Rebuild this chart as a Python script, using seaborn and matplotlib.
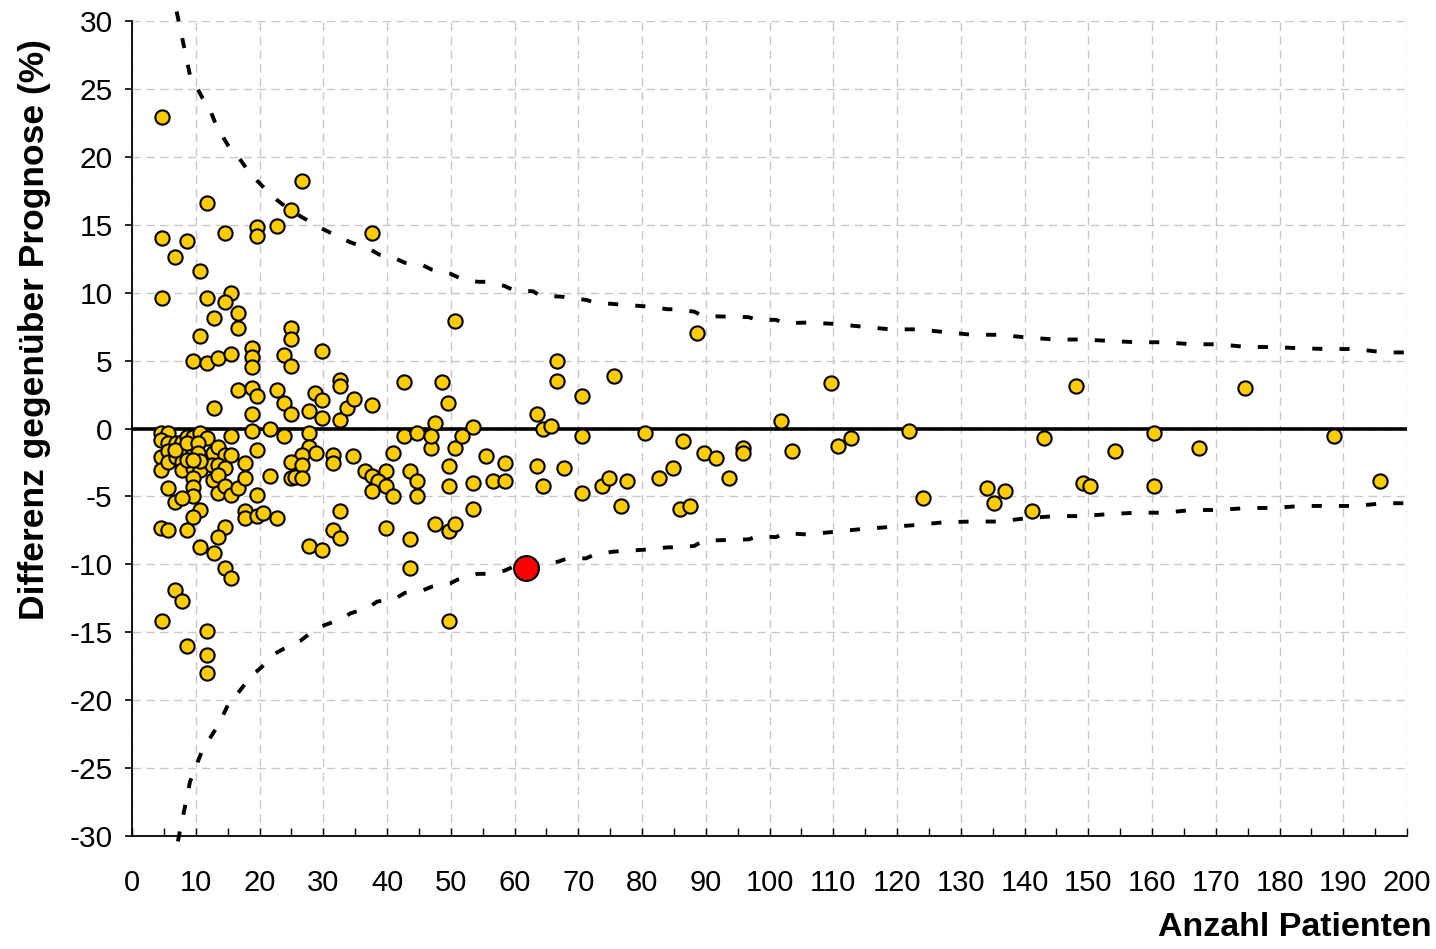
import matplotlib
matplotlib.use("Agg")
import matplotlib.pyplot as plt
import seaborn as sns
import pandas as pd

# ---------------- data ----------------
patients = [
    4.7, 26.6, 11.7, 24.9, 4.7, 8.6, 14.6, 19.6, 19.6, 22.7, 37.6, 6.75, 10.7, 4.7, 11.7, 15.6,
    14.6, 16.7, 12.9, 16.7, 10.7, 24.9, 24.9, 50.7, 88.7, 29.8, 9.6, 11.7, 13.5, 15.6, 18.9, 18.9,
    18.9, 23.8, 24.9, 66.7, 66.7, 75.6, 70.6, 109.7, 148.1, 174.6, 16.7, 18.9, 19.6, 22.7, 23.8,
    12.9, 18.9, 24.9, 27.7, 28.7, 29.8, 29.8, 32.6, 32.6, 32.6, 33.7, 34.8, 37.6, 42.6, 48.6,
    49.6, 47.5, 53.5, 63.5, 64.5, 65.7, 101.8,
    # cluster near zero / negative, small n
    4.6, 5.7, 4.6, 5.7, 4.6, 4.6, 5.7, 5.7, 6.85, 6.85, 7.9, 7.9, 7.9, 7.9, 8.6, 8.6, 9.6, 9.6,
    9.6, 10.7, 11.7, 10.7, 9.6, 9.6, 9.6, 5.7, 6.75, 7.9, 10.7, 9.6, 4.6, 5.7, 8.6, 14.6, 13.5,
    12.75, 13.5, 14.6, 15.6, 12.5, 13.5, 14.6, 12.75, 13.5, 13.5, 14.6, 15.6, 16.7, 17.7, 17.7,
    19.6, 18.8, 15.6, 19.6, 17.7, 17.7, 19.6, 20.6, 22.7, 10.7, 12.9, 14.6, 15.6, 6.75, 7.8,
    4.65, 11.7, 8.6, 11.7, 11.7, 21.6, 23.9, 27.7, 27.7, 26.6, 28.8, 24.9, 26.6, 21.6, 24.9,
    25.6, 26.6, 27.7, 29.8, 6.75, 8.6, 10.4, 10.4, 8.6, 10.7, 9.6,
    # middle region
    31.6, 31.6, 34.7, 40.9, 55.6, 58.5, 36.5, 37.6, 39.8, 38.6, 39.8, 37.6, 40.9, 43.6, 44.7,
    44.7, 49.7, 49.7, 53.5, 56.7, 58.5, 63.5, 64.5, 32.6, 53.5, 31.6, 32.6, 39.8, 43.6, 47.5,
    49.7, 50.7, 43.6, 49.7, 46.9, 50.7, 42.6, 44.7, 46.9, 51.7,
    # right region
    70.6, 80.5, 86.5, 89.8, 91.6, 95.8, 95.8, 103.6, 67.8, 70.6, 73.8, 74.9, 77.7, 76.7, 82.7,
    84.8, 86.0, 87.6, 93.6, 121.9, 110.7, 112.8, 143.1, 154.2, 160.3, 167.4, 188.6, 124.0,
    134.1, 136.9, 135.2, 141.2, 149.1, 150.3, 160.3, 195.8,
]
difference = [
    22.9, 18.25, 16.6, 16.1, 14.05, 13.8, 14.4, 14.8, 14.2, 14.9, 14.4, 12.6, 11.6, 9.6, 9.6, 10.0,
    9.3, 8.5, 8.1, 7.4, 6.8, 7.4, 6.6, 7.9, 7.0, 5.7, 5.0, 4.8, 5.2, 5.5, 5.9, 5.3,
    4.5, 5.4, 4.6, 4.97, 3.5, 3.9, 2.4, 3.33, 3.15, 2.96, 2.8, 3.0, 2.4, 2.8, 1.9,
    1.5, 1.1, 1.1, 1.3, 2.6, 2.1, 0.8, 3.55, 3.1, 0.6, 1.5, 2.2, 1.7, 3.4, 3.4,
    1.85, 0.4, 0.1, 1.1, 0.0, 0.2, 0.58,
    -0.36, -0.3, -0.85, -1.1, -2.07, -3.05, -1.63, -2.44, -1.1, -2.07, -0.97, -1.83, -2.44, -3.05, -0.6, -1.7, -0.6, -1.78,
    -2.93, -0.36, -0.72, -3.05, -3.67, -4.28, -4.97, -4.4, -5.4, -5.14, -6.0, -6.5, -7.3, -7.5, -7.5, -7.27, -8.0,
    -1.83, -1.34, -1.95, -1.95, -2.7, -2.7, -2.93, -3.8, -3.4, -4.77, -4.23, -4.9, -4.4, -3.67, -2.56,
    -1.6, -0.2, -0.55, -4.9, -6.1, -6.6, -6.45, -6.25, -6.6, -8.7, -9.2, -10.25, -11.0, -11.9, -12.7,
    -14.2, -14.9, -16.0, -16.7, -18.0, 0.0, -0.55, -0.36, -1.34, -1.95, -1.78, -2.5, -2.7, -3.47, -3.67,
    -3.55, -3.67, -8.65, -8.95, -1.6, -1.1, -1.1, -1.8, -2.3, -2.4, -2.3,
    -1.95, -2.56, -2.0, -1.83, -2.0, -2.56, -3.1, -3.5, -3.1, -3.84, -4.2, -4.6, -4.97, -3.1, -3.84,
    -4.97, -2.74, -4.2, -4.0, -3.84, -3.84, -2.74, -4.2, -6.05, -5.9, -7.5, -8.05, -7.35, -8.1, -7.0,
    -7.55, -7.0, -10.3, -14.2, -1.46, -1.46, -0.55, -0.35, -0.55, -0.55,
    -0.55, -0.36, -0.9, -1.83, -2.2, -1.4, -1.83, -1.63, -2.93, -4.77, -4.2, -3.67, -3.84, -5.7, -3.67,
    -2.9, -5.9, -5.7, -3.67, -0.16, -1.26, -0.72, -0.72, -1.63, -0.36, -1.46, -0.55, -5.14,
    -4.4, -4.6, -5.5, -6.05, -4.0, -4.2, -4.2, -3.84,
]

highlight_patients = [61.8]
highlight_difference = [-10.3]

ci_upper_n = [7.0, 9.1, 11.1, 12.1, 13.3, 14.1, 15.5, 16.8, 18.5, 19.6, 21.6, 22.8, 25.0, 26.7,
              29.1, 30.3, 32.9, 34.3, 37.3, 38.8, 41.4, 42.8, 45.7, 47.0, 49.9, 51.3, 54.2, 55.5,
              58.4, 59.8, 62.9, 64.0, 67.5, 71.3, 72.6, 75.4, 81.1, 84.0, 85.4, 88.2, 89.6, 93.9,
              96.7, 98.1, 101.0, 102.4, 105.9, 110.3, 114.5, 118.9, 123.1, 127.5, 131.8, 136.0,
              140.4, 144.8, 149.0, 153.3, 157.5, 161.9, 166.3, 170.5, 174.9, 179.1, 183.4, 187.8,
              192.0, 196.4, 200.5]
ci_upper = [30.7, 26.0, 24.3, 23.65, 22.2, 21.6, 20.5, 19.9, 18.8, 18.25, 17.3, 16.8, 16.0, 15.55,
            14.9, 14.6, 14.0, 13.7, 13.2, 12.8, 12.5, 12.2, 12.0, 11.7, 11.4, 11.1, 10.8, 10.8,
            10.5, 10.2, 10.1, 9.8, 9.7, 9.46, 9.27, 9.17, 8.97, 8.78, 8.78, 8.6, 8.28, 8.23,
            8.2, 7.99, 8.0, 7.75, 7.8, 7.7, 7.5, 7.3, 7.3, 7.1, 6.9, 6.9,
            6.7, 6.55, 6.55, 6.45, 6.35, 6.35, 6.2, 6.2, 6.0, 6.0, 5.9, 5.85,
            5.85, 5.6, 5.6]

ci_lower_n = [7.2, 9.1, 11.1, 12.1, 13.3, 14.1, 15.5, 16.4, 18.1, 19.3, 21.4, 22.5, 25.05, 26.5,
              28.7, 30.1, 32.9, 34.3, 37.1, 38.4, 41.4, 42.8, 45.7, 47.0, 49.9, 51.2, 54.2, 55.5,
              58.4, 59.8, 66.9, 68.3, 71.2, 72.5, 75.4, 81.1, 84.0, 85.4, 88.2, 89.6, 93.9, 96.8,
              98.1, 101.0, 102.4, 105.9, 110.3, 114.5, 118.9, 123.1, 127.5, 131.8, 136.0, 140.4,
              144.8, 149.0, 153.3, 157.5, 161.9, 166.3, 170.5, 174.9, 179.1, 183.4, 187.8, 192.0,
              196.4, 200.5]
ci_lower = [-30.4, -26.0, -23.6, -22.9, -22.0, -21.3, -19.9, -19.6, -18.6, -18.0, -17.1, -16.55, -15.9, -15.6,
            -14.8, -14.5, -14.0, -13.6, -13.2, -12.75, -12.5, -12.1, -11.9, -11.65, -11.4, -11.1, -10.7, -10.7,
            -10.47, -10.18, -9.8, -9.56, -9.56, -9.3, -9.07, -8.9, -8.75, -8.75, -8.65, -8.26, -8.2, -8.16,
            -7.9, -8.0, -7.7, -7.8, -7.6, -7.4, -7.25, -7.1, -6.9, -6.85, -6.85, -6.6,
            -6.45, -6.45, -6.3, -6.2, -6.2, -6.0, -6.0, -5.85, -5.85, -5.7, -5.7, -5.7,
            -5.5, -5.5]

x_ticks = list(range(0, 201, 10))
y_ticks = list(range(-30, 31, 5))
zero_level = 0
x_label = "Anzahl Patienten"
y_label = "Differenz gegenüber Prognose (%)"

# ---------------- plot ----------------
sns.set_theme(style="white")
plt.rcParams['font.family'] = ['Liberation Sans', 'DejaVu Sans']
plt.rcParams['axes.unicode_minus'] = False
plt.rcParams['text.color'] = 'black'
plt.rcParams['xtick.color'] = 'black'
plt.rcParams['ytick.color'] = 'black'

W, H = 1436, 949
fig = plt.figure(figsize=(W / 100, H / 100), dpi=100)
ax = fig.add_axes([132 / W, 1 - 836 / H, (1407 - 132) / W, (836 - 21) / H])

ax.set_xlim(0, 200)
ax.set_ylim(-30, 30)
ax.set_xticks(x_ticks)
ax.set_yticks(y_ticks)
ax.set_xticks(list(range(5, 200, 10)), minor=True)

ax.grid(True, which='major', color='#c8c8c8', linestyle=(0, (6, 4)), linewidth=1.0)
ax.set_axisbelow(True)

ax.axhline(zero_level, color='black', linewidth=2.6, zorder=2)

df_up = pd.DataFrame({'n': ci_upper_n, 'v': ci_upper})
df_lo = pd.DataFrame({'n': ci_lower_n, 'v': ci_lower})
for d in (df_up, df_lo):
    sns.lineplot(data=d, x='n', y='v', ax=ax, color='black', linewidth=2.8,
                 linestyle=(0, (2.6, 4.4)), sort=False, estimator=None, zorder=3,
                 clip_on=False)

df_pts = pd.DataFrame({'n': patients, 'd': difference})
sns.scatterplot(data=df_pts, x='n', y='d', ax=ax, color='#FFCC00', edgecolor='black',
                linewidth=1.5, s=105, zorder=4, clip_on=False)

df_hi = pd.DataFrame({'n': highlight_patients, 'd': highlight_difference})
sns.scatterplot(data=df_hi, x='n', y='d', ax=ax, color='#FF0000', edgecolor='black',
                linewidth=1.5, s=320, zorder=5)

for side in ('top', 'right'):
    ax.spines[side].set_visible(False)
for side in ('left', 'bottom'):
    ax.spines[side].set_color('black')
    ax.spines[side].set_linewidth(1.3)

ax.tick_params(axis='y', which='major', direction='out', length=5, width=1.2,
               color='black', labelcolor='black', labelsize=21.5, pad=9, left=True)
ax.tick_params(axis='x', which='both', direction='in', length=6, width=1.0,
               color='black', labelcolor='black', labelsize=21, pad=24, bottom=True)
ax.set_xlabel('')
ax.set_ylabel('')

fig.text(1432 / W, 1 - 928 / H, x_label, ha='right', va='center', color='black',
         fontsize=24.5, fontweight='bold')
fig.text(35 / W, 1 - 330 / H, y_label, ha='center', va='center', rotation=90,
         color='black', fontsize=25.5, fontweight='bold')

fig.savefig('out.png', dpi=100)
